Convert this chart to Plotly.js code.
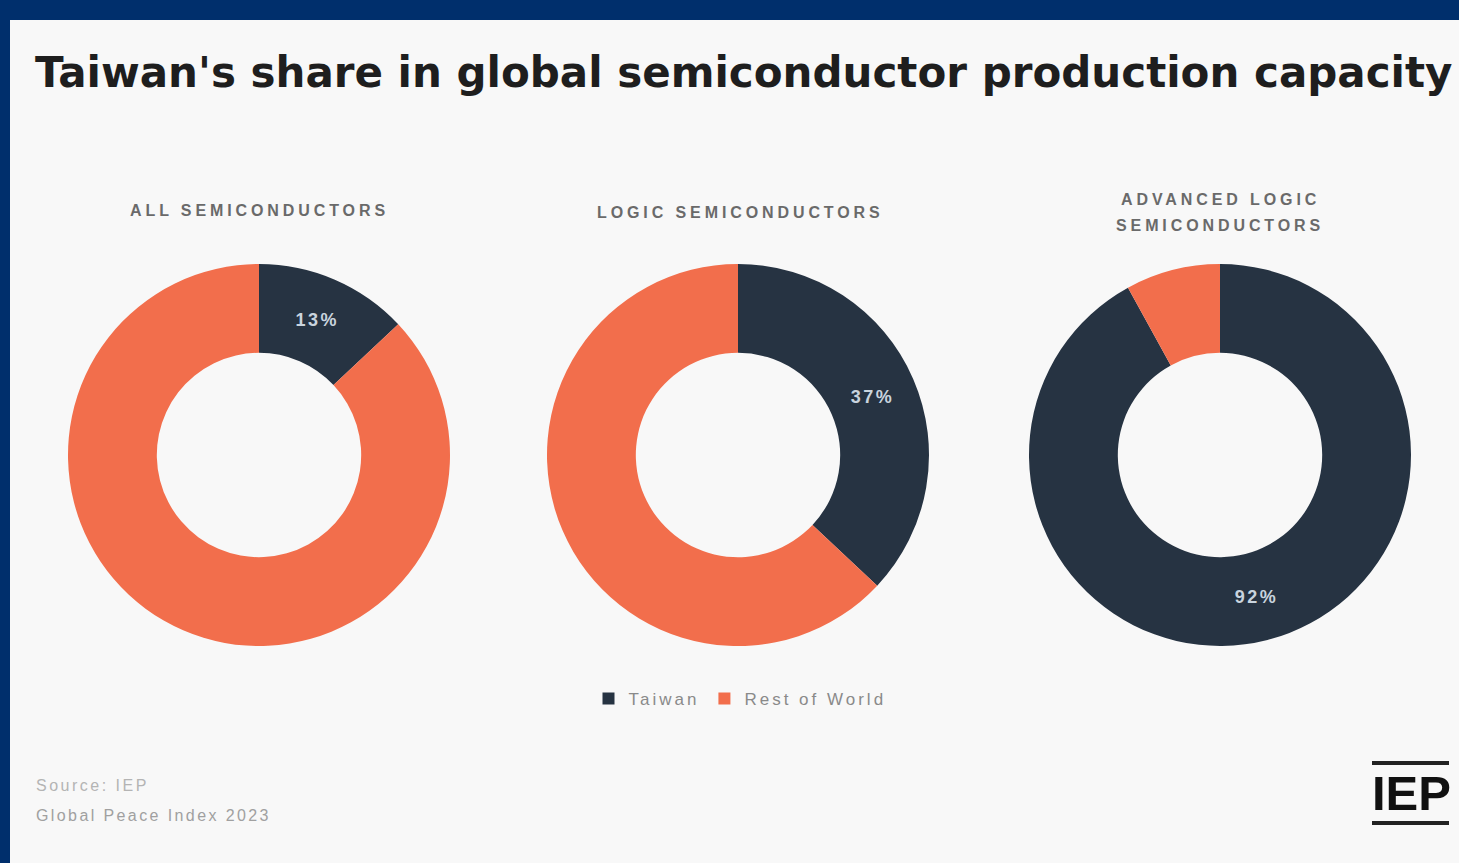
<!DOCTYPE html>
<html>
<head>
<meta charset="utf-8">
<script src="https://cdn.plot.ly/plotly-3.0.1.min.js"></script>
<style>
html,body{margin:0;padding:0;background:#002f6c;}
#chart{width:1459px;height:863px;}
.legendtext{letter-spacing:3px;}
</style>
</head>
<body>
<div id="chart"></div>
<script>
// ---- data ----
const labels = ["Taiwan", "Rest of World"];
const panelTitles = ["ALL SEMICONDUCTORS", "LOGIC SEMICONDUCTORS", "ADVANCED LOGIC", "SEMICONDUCTORS"];
const taiwanShare = [13, 37, 92];
const restShare = [87, 63, 8];
const colors = ["#263342", "#f26e4c"];

const W = 1459, H = 863;
const px = v => v / W;
const py = v => 1 - v / H;

// pie geometry (pixels)
const centersX = [259, 738, 1220];
const centerY = 455;
const R = 191;

const sp = (s, n) => '<span style="letter-spacing:' + n + 'px">' + s + '</span>';

const traces = taiwanShare.map((t, i) => ({
  type: "pie",
  labels: labels,
  values: [t, restShare[i]],
  text: [sp(t + "%", 2.5), ""],
  textinfo: "text",
  textposition: "inside",
  insidetextorientation: "horizontal",
  textfont: {family: "Liberation Sans, Arial, sans-serif", size: 18, color: "#c9d4de", weight: "bold"},
  hole: 0.535,
  sort: false,
  direction: "clockwise",
  rotation: 0,
  marker: {colors: colors, line: {width: 0}},
  domain: {x: [px(centersX[i] - R), px(centersX[i] + R)], y: [py(centerY + R), py(centerY - R)]},
  showlegend: i === 0,
  hoverinfo: "label+percent"
}));

const sub = {family: "Liberation Sans, Arial, sans-serif", size: 16, color: "#6a6a6a", weight: "bold"};
const ann = (text, x, y, font, xanchor) => ({text, x: px(x), y: py(y), xref: "paper", yref: "paper",
  xanchor: xanchor || "center", yanchor: "middle", showarrow: false, font});

const annotations = [
  ann("Taiwan's share in global semiconductor production capacity", 33, 73,
      {family: "DejaVu Sans, sans-serif", size: 42, color: "#1e1e1e", weight: "bold"}, "left"),
  ann(sp(panelTitles[0], 3.9), 259, 211, sub),
  ann(sp(panelTitles[1], 3.9), 740, 212, sub),
  ann(sp(panelTitles[2], 3.9), 1220, 199, sub),
  ann(sp(panelTitles[3], 3.9), 1220, 225, sub),
  ann(sp("Source: IEP", 2.5), 34, 785, {family: "Liberation Sans, Arial, sans-serif", size: 16, color: "#b4b4b4"}, "left"),
  ann(sp("Global Peace Index 2023", 2.4), 34, 815, {family: "Liberation Sans, Arial, sans-serif", size: 16, color: "#a0a0a0"}, "left"),
  ann("IEP", 1411, 793, {family: "Liberation Sans, Arial, sans-serif", size: 49, color: "#111111", weight: "bold"})
];

const shapes = [
  {type: "rect", xref: "paper", yref: "paper", x0: 0, x1: 1, y0: py(20), y1: 1, fillcolor: "#002f6c", line: {width: 0}, layer: "below"},
  {type: "rect", xref: "paper", yref: "paper", x0: 0, x1: px(10), y0: 0, y1: 1, fillcolor: "#002f6c", line: {width: 0}, layer: "below"},
  {type: "line", xref: "paper", yref: "paper", x0: px(1372), x1: px(1449), y0: py(763), y1: py(763), line: {color: "#222", width: 4}},
  {type: "line", xref: "paper", yref: "paper", x0: px(1372), x1: px(1449), y0: py(823), y1: py(823), line: {color: "#222", width: 4}}
];

const layout = {
  width: W, height: H,
  margin: {l: 0, r: 0, t: 0, b: 0},
  paper_bgcolor: "#f8f8f8",
  showlegend: true,
  legend: {orientation: "h", x: px(740), xanchor: "center", y: py(699), yanchor: "middle",
    font: {family: "Liberation Sans, Arial, sans-serif", size: 17, color: "#8a8a8a"},
    bgcolor: "rgba(0,0,0,0)", traceorder: "normal"},
  annotations: annotations,
  shapes: shapes
};

Plotly.newPlot("chart", traces, layout, {displayModeBar: false, staticPlot: true});
</script>
</body>
</html>
